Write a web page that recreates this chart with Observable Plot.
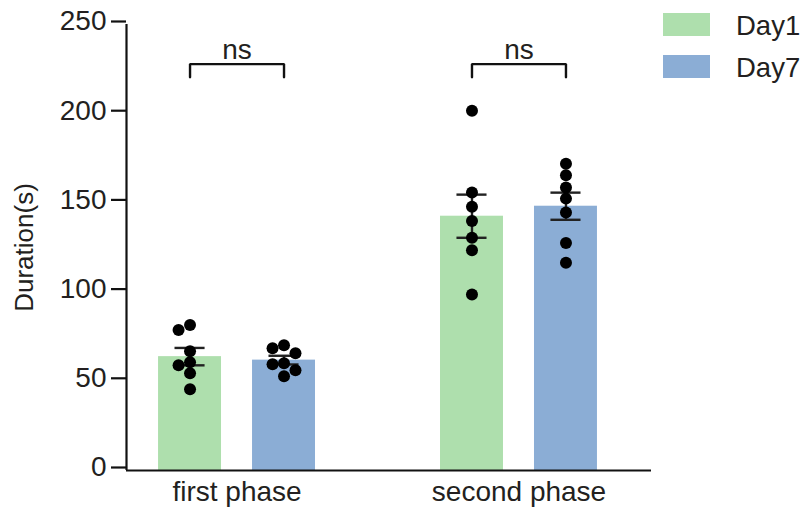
<!DOCTYPE html>
<html>
<head>
<meta charset="utf-8">
<script src="https://cdn.jsdelivr.net/npm/d3@7"></script>
<script src="https://cdn.jsdelivr.net/npm/@observablehq/plot@0.6"></script>
<style>
  html, body { margin: 0; padding: 0; background: #fff; }
  #wrap { position: relative; width: 806px; height: 509px; font-family: "Liberation Sans", Arial, sans-serif; }
  #legend { position: absolute; left: 663px; top: 0; }
  .item { position: absolute; left: 0; width: 140px; height: 30px; }
  .sw { position: absolute; left: 0; width: 47px; height: 23px; }
  .lab { position: absolute; left: 73px; font-size: 27.5px; color: #231f20; line-height: 1; white-space: nowrap; }
</style>
</head>
<body>
<div id="wrap"><div id="legend"></div></div>
<script>
// ---- data ----
const phases = ["first phase", "second phase"];
const days = ["Day1", "Day7"];
const dayColors = ["#aedfad", "#8badd5"];
const firstDay1 = [81.5, 78.7, 66.9, 60.7, 59.0, 54.5, 45.5];
const firstDay7 = [70.2, 68.5, 65.7, 60.1, 59.6, 56.2, 52.8];
const secondDay1 = [201.7, 155.8, 147.8, 139.9, 130.5, 123.4, 98.7];
const secondDay7 = [171.9, 165.5, 158.6, 152.4, 144.6, 127.5, 116.5];
const yTicks = [0, 50, 100, 150, 200, 250];
const significance = ["ns", "ns"];

// ---- derived tables ----
const seriesValues = [[firstDay1, firstDay7], [secondDay1, secondDay7]];
const groups = [];
phases.forEach((phase, pi) => {
  days.forEach((day, di) => {
    const values = seriesValues[pi][di];
    const mean = d3.mean(values);
    const sem = d3.deviation(values) / Math.sqrt(values.length);
    groups.push({phase, day, pos: 3 * pi + di, values, mean, sem});
  });
});

// simple beeswarm-like dodge: columns 0, -1, +1 ...
const collide = 6.1; // value units
const points = [];
groups.forEach(g => {
  const placed = [];
  [...g.values].sort((a, b) => b - a).forEach(v => {
    for (const c of [0, -1, 1, -2, 2]) {
      if (!placed.some(p => p.c === c && Math.abs(p.v - v) < collide)) {
        placed.push({v, c});
        points.push({phase: g.phase, day: g.day, value: v, x: g.pos + c * 0.122});
        break;
      }
    }
  });
});

const brackets = [];
const labels = [];
phases.forEach((phase, pi) => {
  const a = 3 * pi, b = 3 * pi + 1;
  brackets.push([{x: a, y: 220.5, phase}, {x: a, y: 227.8, phase}, {x: b, y: 227.8, phase}, {x: b, y: 220.5, phase}]);
  labels.push({x: (a + b) / 2, y: 230.5, text: significance[pi]});
});

const bw = 0.335, cap = 0.16;
const chart = Plot.plot({
  width: 806,
  height: 509,
  marginTop: 24,
  marginBottom: 39,
  marginLeft: 126,
  marginRight: 155,
  style: {fontFamily: "'Liberation Sans', Arial, sans-serif", fontSize: "28px", color: "#231f20", background: "transparent", overflow: "visible"},
  x: {domain: [-0.676, 4.91], axis: null},
  y: {domain: [0, 250], axis: null},
  color: {domain: days, range: dayColors},
  marks: [
    Plot.rectY(groups, {x1: d => d.pos - bw, x2: d => d.pos + bw, y1: 0, y2: "mean", fill: "day"}),
    Plot.ruleX(groups, {x: "pos", y1: d => d.mean - d.sem, y2: d => d.mean + d.sem, stroke: "#222", strokeWidth: 2.4}),
    Plot.ruleY(groups, {y: d => d.mean - d.sem, x1: d => d.pos - cap, x2: d => d.pos + cap, stroke: "#222", strokeWidth: 2.4}),
    Plot.ruleY(groups, {y: d => d.mean + d.sem, x1: d => d.pos - cap, x2: d => d.pos + cap, stroke: "#222", strokeWidth: 2.4}),
    Plot.dot(points, {x: "x", y: "value", r: 6, fill: "#000", stroke: "none"}),
    ...brackets.map(b => Plot.line(b, {x: "x", y: "y", stroke: "#111", strokeWidth: 2.4, strokeLinejoin: "miter"})),
    Plot.text(labels, {x: "x", y: "y", text: "text", lineAnchor: "bottom", fontSize: 28, fill: "#231f20"}),
    Plot.ruleY([0], {stroke: "#111", strokeWidth: 2.2}),
    Plot.ruleX([-0.676], {y1: 0, y2: 250, stroke: "#111", strokeWidth: 2.2}),
    Plot.axisY({ticks: yTicks, tickSize: 15, tickPadding: 5, strokeWidth: 2.2, stroke: "#111", fontSize: 28, dy: -3,
      label: "Duration(s)", labelAnchor: "center", labelOffset: 112, labelArrow: "none"}),
    Plot.axisX({ticks: [0.5, 3.5], tickFormat: t => phases[Math.round((t - 0.5) / 3)], tickSize: 0, tickPadding: 11, fontSize: 28, label: null})
  ]
});
document.getElementById("wrap").prepend(chart);
// y-axis title a bit smaller than tick labels
chart.querySelectorAll('g[aria-label="y-axis label"] text').forEach(t => t.setAttribute("font-size", "26"));

// legend (HTML overlay, top right)
const legend = document.getElementById("legend");
days.forEach((day, i) => {
  const item = document.createElement("div");
  item.className = "item";
  item.style.top = (13 + i * 42) + "px";
  item.innerHTML = `<div class="sw" style="background:${dayColors[i]}"></div><div class="lab" style="top:-1px">${day}</div>`;
  legend.appendChild(item);
});
</script>
</body>
</html>
